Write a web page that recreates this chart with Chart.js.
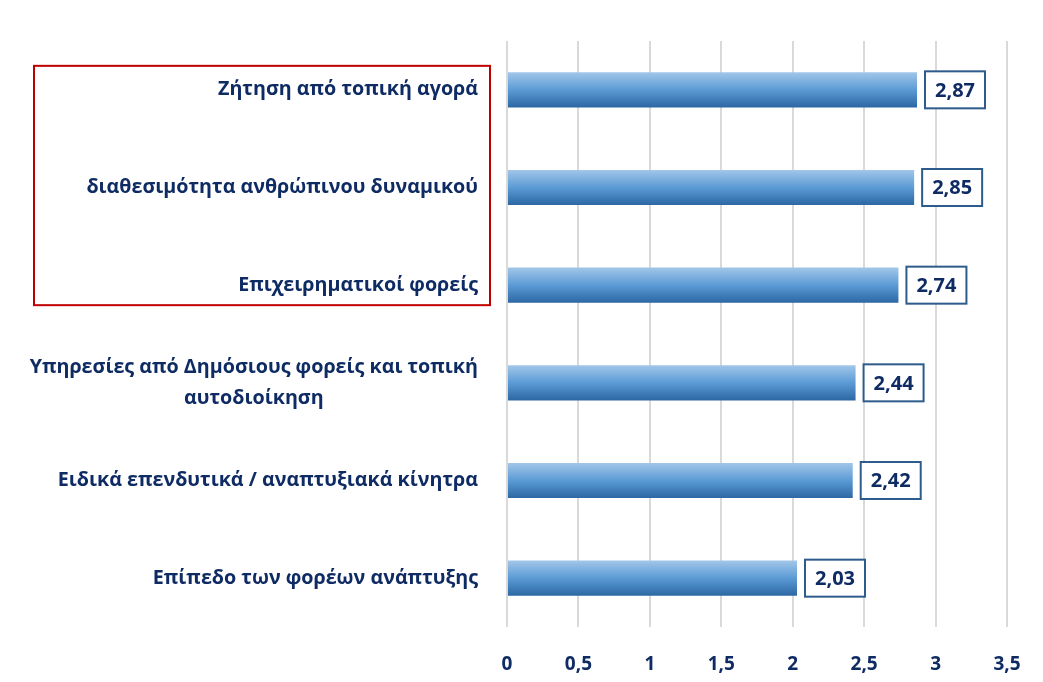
<!DOCTYPE html>
<html>
<head>
<meta charset="utf-8">
<script src="https://cdn.jsdelivr.net/npm/chart.js@4.4.1/dist/chart.umd.min.js"></script>
<style>
  html, body { margin: 0; padding: 0; background: #fff; }
  #wrap { width: 1043px; height: 682px; position: relative; }
</style>
</head>
<body>
<div id="wrap"><canvas id="c"></canvas></div>
<script>
// Horizontal bar chart — mean scores per factor, Greek labels, comma decimals

const categories = [
    'Ζήτηση από τοπική αγορά',
    'διαθεσιμότητα ανθρώπινου δυναμικού',
    'Επιχειρηματικοί φορείς',
    ['Υπηρεσίες από Δημόσιους φορείς και τοπική', 'αυτοδιοίκηση'],
    'Ειδικά επενδυτικά / αναπτυξιακά κίνητρα',
    'Επίπεδο των φορέων ανάπτυξης'
];
const scores = [2.87, 2.85, 2.74, 2.44, 2.42, 2.03];
const highlighted = [0, 1, 2]; // rows inside the red frame
const xMax = 3.5;
const xStep = 0.5;

const FONT = '"Open Sans", "Noto Sans", sans-serif';
const NAVY = '#0f2b64';
const fmt = (v, d) => v.toFixed(d).replace('.', ',');

function barGradient(c) {
    const chart = c.chart;
    const y = chart.scales.y;
    if (!chart.chartArea || !y) return '#5b9bd5';
    const cy = y.getPixelForValue(c.dataIndex);
    const half = Math.abs(y.getPixelForValue(1) - y.getPixelForValue(0)) * 0.36 / 2;
    const g = chart.ctx.createLinearGradient(0, cy - half, 0, cy + half);
    g.addColorStop(0, '#a2c6e9');
    g.addColorStop(0.5, '#5b9bd5');
    g.addColorStop(1, '#2c67a3');
    return g;
}

const overlay = {
    id: 'overlay',
    afterDraw(chart) {
        const ctx = chart.ctx;
        const x = chart.scales.x, y = chart.scales.y;
        const area = chart.chartArea;
        ctx.save();

        // category labels, right aligned, multi-line centred on each other
        ctx.font = 'bold 19.7px ' + FONT;
        ctx.fillStyle = NAVY;
        ctx.textBaseline = 'middle';
        const right = area.left - 29;
        categories.forEach((lab, i) => {
            const cy = y.getPixelForValue(i);
            if (Array.isArray(lab)) {
                const w = Math.max(...lab.map(s => ctx.measureText(s).width));
                const mid = right - w / 2;
                const lh = 31;
                ctx.textAlign = 'center';
                lab.forEach((s, k) => {
                    ctx.fillText(s, mid, cy + (k - (lab.length - 1) / 2) * lh);
                });
            } else {
                ctx.textAlign = 'right';
                ctx.fillText(lab, right, cy);
            }
        });

        // value boxes
        ctx.font = 'bold 20px ' + FONT;
        ctx.textAlign = 'center';
        scores.forEach((v, i) => {
            const cy = y.getPixelForValue(i);
            const bx = x.getPixelForValue(v) + 8;
            const bw = 60, bh = 37;
            ctx.fillStyle = '#fff';
            ctx.fillRect(bx, cy - bh / 2, bw, bh);
            ctx.strokeStyle = '#2d5b8c';
            ctx.lineWidth = 2;
            ctx.strokeRect(bx, cy - bh / 2, bw, bh);
            ctx.fillStyle = NAVY;
            ctx.fillText(fmt(v, 2), bx + bw / 2, cy + 1);
        });

        // red frame round the highlighted rows
        const top = y.getPixelForValue(highlighted[0]) - 24;
        const bottom = y.getPixelForValue(highlighted[highlighted.length - 1]) + 20;
        ctx.strokeStyle = '#c00000';
        ctx.lineWidth = 2;
        ctx.strokeRect(34, top, area.left - 17 - 34, bottom - top);
        ctx.restore();
    }
};

new Chart(document.getElementById('c'), {
    type: 'bar',
    data: {
        labels: categories,
        datasets: [{
            data: scores,
            backgroundColor: barGradient,
            borderWidth: 0,
            barPercentage: 0.36,
            categoryPercentage: 1
        }]
    },
    options: {
        indexAxis: 'y',
        responsive: true,
        maintainAspectRatio: false,
        animation: false,
        layout: { padding: { left: 507, right: 36, top: 41, bottom: 0 } },
        plugins: { legend: { display: false }, tooltip: { enabled: false } },
        scales: {
            x: {
                min: 0,
                max: xMax,
                ticks: {
                    stepSize: xStep,
                    padding: 26,
                    color: NAVY,
                    font: { family: FONT, size: 19, weight: 'bold' },
                    callback: v => String(v).replace('.', ',')
                },
                grid: { color: '#d9d9d9', lineWidth: 2, drawTicks: false },
                border: { display: false },
                afterFit: s => { s.height = 55; s.paddingLeft = 0; s.paddingRight = 0; }
            },
            y: { display: false }
        }
    },
    plugins: [overlay]
});
</script>
</body>
</html>
